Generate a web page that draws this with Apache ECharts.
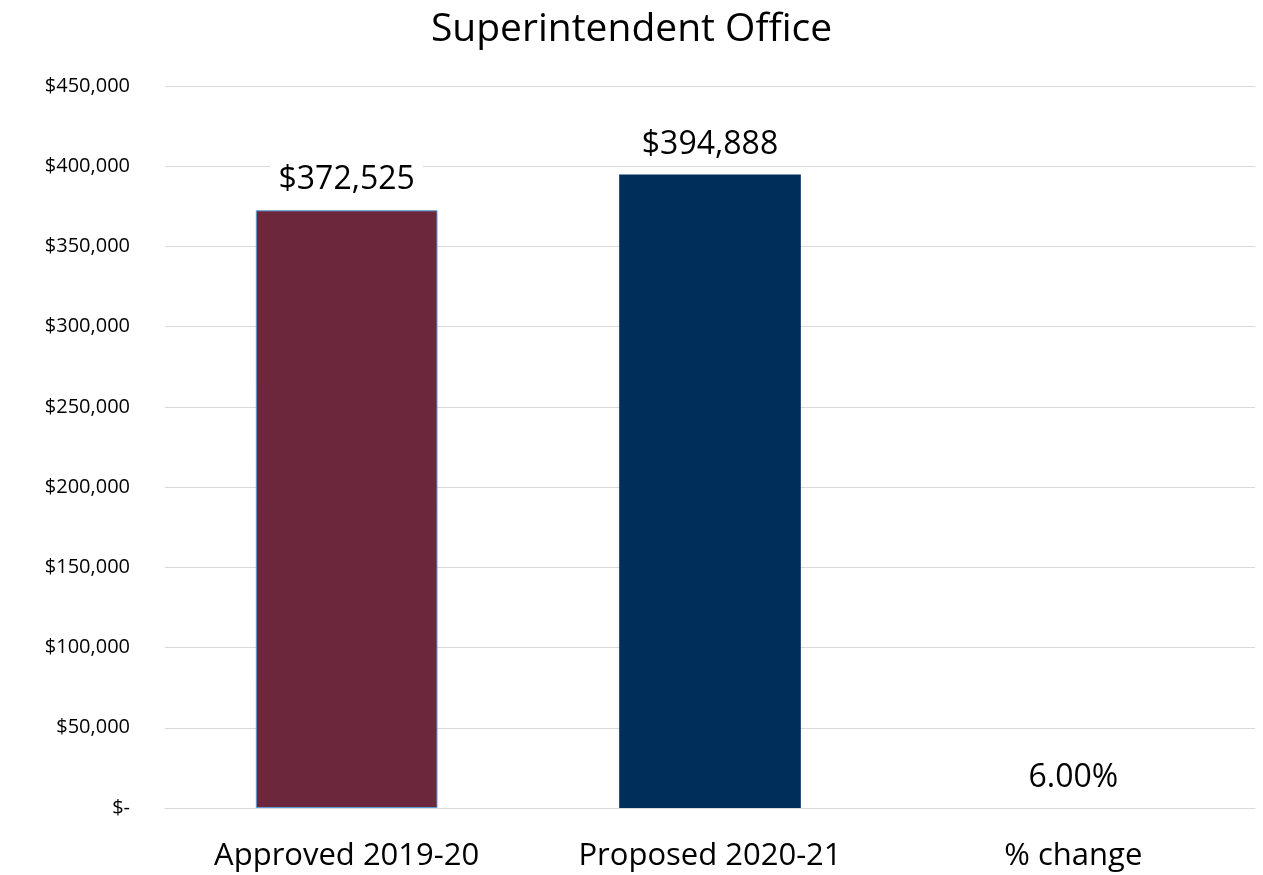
<!DOCTYPE html>
<html>
<head>
<meta charset="utf-8">
<script src="https://cdn.jsdelivr.net/npm/echarts@6/dist/echarts.min.js"></script>
<style>
  html, body { margin: 0; padding: 0; background: #fff; }
  #main { width: 1263px; height: 875px; }
</style>
</head>
<body>
<div id="main"></div>
<script>
  var categories = ['Approved 2019-20', 'Proposed 2020-21', '% change']
  var values = [372525, 394888, 0.06]
  var barColors = ['#6D273D', '#002E5B', '#A5A5A5']
  var yTicks = [0, 50000, 100000, 150000, 200000, 250000, 300000, 350000, 400000, 450000]

  var font = '"Open Sans", "Noto Sans", sans-serif'

  function money(v) {
    if (v === 0) return '$-'
    return '$' + v.toLocaleString('en-US')
  }

  var chart = echarts.init(document.getElementById('main'))
  chart.setOption({
    animation: false,
    title: {
      text: 'Superintendent Office',
      left: 'center',
      top: 5,
      textStyle: { fontFamily: font, fontSize: 39, fontWeight: 'normal', color: '#000' }
    },
    grid: { left: 165, right: 8, top: 86, bottom: 67 },
    xAxis: {
      type: 'category',
      data: categories,
      axisTick: { show: false },
      axisLine: { lineStyle: { color: '#d9d9d9', width: 1 } },
      axisLabel: { fontFamily: font, fontSize: 31, color: '#000', margin: 33 }
    },
    yAxis: {
      type: 'value',
      min: yTicks[0],
      max: yTicks[yTicks.length - 1],
      interval: 50000,
      axisLine: { show: false },
      axisTick: { show: false },
      splitLine: { lineStyle: { color: '#d9d9d9', width: 1 } },
      axisLabel: {
        fontFamily: font, fontSize: 20, color: '#000', margin: 35,
        formatter: money
      }
    },
    series: [{
      type: 'bar',
      barWidth: '50%',
      data: values.map(function (v, i) {
        return {
          value: v,
          itemStyle: {
            color: barColors[i],
            borderColor: i === 0 ? '#5B9BD5' : barColors[i],
            borderWidth: i === 0 ? 1 : 0
          }
        }
      }),
      label: {
        show: true,
        position: 'top',
        distance: 12,
        fontFamily: font,
        fontSize: 32,
        color: '#000',
        backgroundColor: '#fff',
        padding: [2, 8],
        formatter: function (p) {
          if (p.dataIndex === 2) return (p.value * 100).toFixed(2) + '%'
          return money(p.value)
        }
      }
    }]
  })
</script>
</body>
</html>
